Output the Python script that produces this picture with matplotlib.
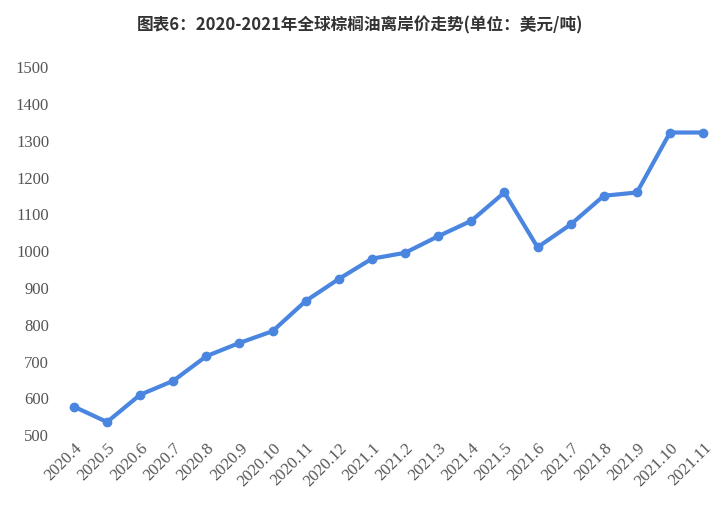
import matplotlib.pyplot as plt

months = ["2020.4", "2020.5", "2020.6", "2020.7", "2020.8", "2020.9", "2020.10",
          "2020.11", "2020.12", "2021.1", "2021.2", "2021.3", "2021.4", "2021.5",
          "2021.6", "2021.7", "2021.8", "2021.9", "2021.10", "2021.11"]
prices = [575, 533, 607, 645, 712, 748, 780, 862, 922, 977, 993, 1038, 1080, 1157,
          1008, 1070, 1148, 1157, 1320, 1320]

plt.rcParams['font.family'] = ['Noto Sans CJK SC', 'DejaVu Sans']

fig = plt.figure(figsize=(7.2, 5.06), dpi=100)
ax = fig.add_axes([0.075, 0.14, 0.92, 0.727])
x = range(len(months))
ax.plot(x, prices, color="#4A86E0", lw=3, marker="o", ms=6)
ax.set_ylim(500, 1500)
ax.set_xlim(-0.6, len(months) - 0.6)
ax.set_yticks(range(500, 1501, 100))
ax.set_xticks(list(x))
ax.set_xticklabels(months, rotation=45, ha="right", rotation_mode="anchor",
                   family="Liberation Serif", fontsize=12, color="#555555")
for lab in ax.get_yticklabels():
    lab.set_family("Liberation Serif")
    lab.set_fontsize(12)
    lab.set_color("#555555")
for s in ax.spines.values():
    s.set_visible(False)
ax.tick_params(length=0)
fig.text(0.5, 0.95, "图表6：2020-2021年全球棕榈油离岸价走势(单位：美元/吨)",
         ha="center", va="center", fontsize=12, fontweight="bold", color="#333333")
fig.savefig("out.png")
